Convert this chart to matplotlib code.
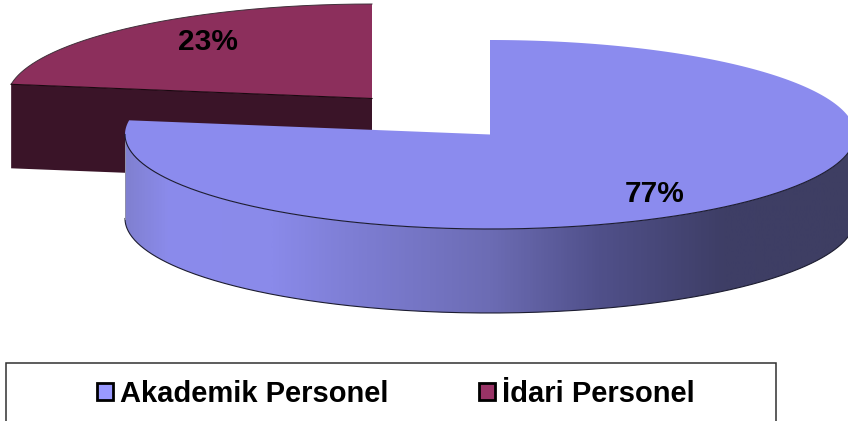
import numpy as np
import matplotlib
matplotlib.use("Agg")
import matplotlib.pyplot as plt
from matplotlib.colors import LinearSegmentedColormap
from matplotlib.patches import Patch, PathPatch, Polygon, Rectangle
from matplotlib.path import Path

plt.rcParams['font.family'] = ['Liberation Sans', 'DejaVu Sans']

labels = ["Akademik Personel", "İdari Personel"]
# labels only say 77 / 23, the decimals are estimated from the slice angle
values = [77.4, 22.6]

fig = plt.figure(figsize=(8.48, 4.21), dpi=100)
ax = fig.add_axes([0, 0, 1, 1])
ax.set_xlim(0, 848)
ax.set_ylim(421, 0)
ax.axis("off")

rx, ry, depth = 365, 94.5, 84
c_main = (490, 134.5)
c_other = (372, 98.5)
top_main = "#8B8BEE"
top_other = "#8C2F5C"
wall_other = "#3A1428"
edge = "#1c1c30"

# slices go clockwise from 12 o'clock, like excel does it
a_main = 360 * values[0] / sum(values)
a_end = 90 - a_main


def ell(c, a0, a1, dy=0):
    t = np.radians(np.linspace(a0, a1, 300))
    return np.column_stack([c[0] + rx * np.cos(t), c[1] - ry * np.sin(t) + dy])


# back slice
corner = ell(c_other, a_end + 360, a_end + 360, 0)[0]
wall = [corner, c_other, (c_other[0], c_other[1] + depth), (corner[0], corner[1] + depth)]
ax.add_patch(Polygon(wall, fc=wall_other, ec="none", zorder=1))
arc_o = ell(c_other, 90, a_end + 360)
ax.add_patch(Polygon(np.vstack([[c_other], arc_o]), fc=top_other, ec="none", zorder=2))
ax.plot(arc_o[:, 0], arc_o[:, 1], color="#40303a", lw=0.7, zorder=3)
ax.plot([corner[0], c_other[0]], [corner[1], c_other[1]], color="#1a0810", lw=0.8, zorder=3)

# side of the main slice, gradient clipped to the outline
front = ell(c_main, 180, 360)
back = ell(c_main, 360, 180, depth)
side = np.vstack([front, back, front[:1]])
grad = LinearSegmentedColormap.from_list("side", [
    (0.0, "#8080D0"), (0.06, "#8B8BEC"), (0.2, "#8A8AEA"), (0.3, "#7F7FD6"),
    (0.5, "#6C6CB4"), (0.65, "#50508A"), (0.82, "#3E3E66"), (1.0, "#3E3E62")])
im = ax.imshow(np.linspace(0, 1, 512)[None, :], cmap=grad, aspect="auto",
               extent=(c_main[0] - rx, c_main[0] + rx, 421, 0), zorder=4)
clip = PathPatch(Path(side), fc="none", ec="none", transform=ax.transData)
ax.add_patch(clip)
im.set_clip_path(clip)
ax.set_xlim(0, 848)
ax.set_ylim(421, 0)
ax.plot(back[:, 0], back[:, 1], color=edge, lw=0.8, zorder=5)
ax.plot([c_main[0] - rx] * 2, [c_main[1], c_main[1] + depth], color="#9090a8", lw=0.7, zorder=5)

# top of the main slice
arc_m = ell(c_main, 90, a_end)
ax.add_patch(Polygon(np.vstack([[c_main], arc_m]), fc=top_main, ec="none", zorder=6))
low = ell(c_main, 180, 360)
ax.plot(low[:, 0], low[:, 1], color=edge, lw=0.8, zorder=7)

ax.text(655, 194.5, f"{values[0]:.0f}%", fontsize=21.5, fontweight="bold", ha="center", va="center", zorder=8)
ax.text(208, 42.5, f"{values[1]:.0f}%", fontsize=21.5, fontweight="bold", ha="center", va="center", zorder=8)

# legend box runs off the bottom of the picture
ax.add_patch(Rectangle((6, 362.5), 769.5, 70, fc="white", ec="#303030", lw=1.1, zorder=1))
handles = [Patch(fc="#9999FF", ec="black", lw=2), Patch(fc="#993366", ec="black", lw=2)]
ax.legend(handles, labels, ncol=2, frameon=False, prop={"size": 21, "weight": "bold"},
          loc="center", bbox_to_anchor=(396 / 848, 1 - 394 / 421),
          handlelength=0.55, handleheight=0.55, handletextpad=0.25, columnspacing=3.1,
          borderpad=0)

fig.savefig("out.png", dpi=100)
